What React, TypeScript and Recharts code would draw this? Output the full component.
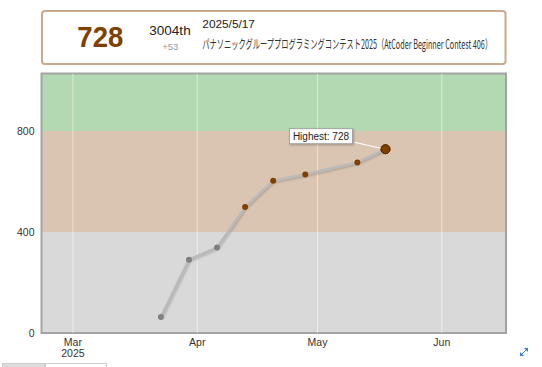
import {
  ComposedChart,
  Line,
  XAxis,
  YAxis,
  ReferenceArea,
  ReferenceLine,
  ReferenceDot,
} from "recharts";

// contest end times (JST) and rating after each contest
const contestEnds = [
  "2025-03-22T22:40:00+09:00",
  "2025-03-29T22:40:00+09:00",
  "2025-04-05T22:40:00+09:00",
  "2025-04-12T22:40:00+09:00",
  "2025-04-19T22:40:00+09:00",
  "2025-04-27T22:40:00+09:00",
  "2025-05-10T22:40:00+09:00",
  "2025-05-17T22:40:00+09:00",
];
const ratings = [63, 290, 339, 499, 603, 628, 675, 728];

const monthTicks = [
  "2025-03-01T00:00:00+09:00",
  "2025-04-01T00:00:00+09:00",
  "2025-05-01T00:00:00+09:00",
  "2025-06-01T00:00:00+09:00",
];
const monthLabels = ["Mar", "Apr", "May", "Jun"];
const yearLabels = ["2025", "", "", ""];
const yTicks = [0, 400, 800];

const bandFrom = [0, 400, 800];
const bandTo = [400, 800, 1200];
const bandColors = ["#d9d9d9", "#d9c5b2", "#b2d9b2"];
const dotColors = ["#808080", "#804000", "#008000"];

const xStart = "2025-02-21T04:00:00+09:00";
const xEnd = "2025-06-17T00:00:00+09:00";
const yMax = 1028;

// header info
const latestRating = "728";
const latestRank = "3004th";
const latestDiff = "+53";
const latestDate = "2025/5/17";
const latestContest =
  "パナソニックグループプログラミングコンテスト2025（AtCoder Beginner Contest 406）";

const t = (s: string) => new Date(s).getTime();

const data = contestEnds.map((d, i) => ({ time: t(d), rating: ratings[i] }));
const ticks = monthTicks.map(t);
const highest = Math.max(...ratings);
const highestIdx = ratings.indexOf(highest);

function colorFor(r: number) {
  return dotColors[Math.min(Math.floor(r / 400), dotColors.length - 1)];
}

// measure text so it can be squeezed to the reference width
function measure(text: string, font: string) {
  const c = document.createElement("canvas").getContext("2d");
  if (!c) return 1;
  c.font = font;
  return c.measureText(text).width || 1;
}

function FitText({
  x,
  y,
  width,
  size,
  family,
  weight = 400,
  fill,
  children,
}: {
  x: number;
  y: number;
  width: number;
  size: number;
  family: string;
  weight?: number;
  fill: string;
  children: string;
}) {
  const w = measure(children, `${weight} ${size}px "${family}", sans-serif`);
  const sx = width / w;
  return (
    <text
      transform={`translate(${x},${y}) scale(${sx},1)`}
      fontFamily={`"${family}", sans-serif`}
      fontWeight={weight}
      fontSize={size}
      fill={fill}
    >
      {children}
    </text>
  );
}

function RatingDot(props: any) {
  const { cx, cy, index, payload } = props;
  if (cx == null || cy == null) return null;
  const last = index === data.length - 1;
  return (
    <circle
      key={"d" + index}
      cx={cx}
      cy={cy}
      r={last ? 4.5 : 3}
      fill={colorFor(payload.rating)}
      stroke={last ? "#5a2d00" : "none"}
      strokeWidth={1}
    />
  );
}

function HighestLabel(props: any) {
  const { cx, cy } = props;
  if (cx == null || cy == null) return null;
  return (
    <g>
      <line x1={cx - 31} y1={cy - 7} x2={cx} y2={cy} stroke="#fff" strokeWidth={1.2} />
      <rect
        x={cx - 96}
        y={cy - 20.5}
        width={63}
        height={15}
        fill="#fff"
        stroke="#999"
        strokeWidth={0.8}
        style={{ filter: "drop-shadow(1px 1px 1px rgba(0,0,0,0.25))" }}
      />
      <text x={cx - 64.5} y={cy - 9.5} textAnchor="middle" fontSize={10} fill="#222">
        Highest: {highest}
      </text>
      <circle cx={cx} cy={cy} r={4.5} fill={colorFor(highest)} stroke="#5a2d00" strokeWidth={1} />
    </g>
  );
}

function MonthTick(props: any) {
  const { x, y, index } = props;
  return (
    <g>
      <text x={x} y={y + 13} textAnchor="middle" fontSize={10.5} fill="#333">
        {monthLabels[index]}
      </text>
      {yearLabels[index] && (
        <text x={x} y={y + 24} textAnchor="middle" fontSize={10.5} fill="#333">
          {yearLabels[index]}
        </text>
      )}
    </g>
  );
}

function Header() {
  return (
    <svg
      width={542}
      height={70}
      style={{ position: "absolute", left: 0, top: 0, pointerEvents: "none" }}
    >
      <rect x={42} y={11} width={463.5} height={53} rx={3} fill="#fff" stroke="#c8aa8c" strokeWidth={2} />
      <FitText x={77.3} y={47.3} width={46} size={29} weight={700} family="Liberation Sans" fill="#804000">
        {latestRating}
      </FitText>
      <FitText x={149.3} y={35} width={41.4} size={13.5} family="Liberation Sans" fill="#222">
        {latestRank}
      </FitText>
      <text x={170.2} y={50} fontSize={9.5} fill="#999" textAnchor="middle">
        {latestDiff}
      </text>
      <FitText x={202.3} y={27.5} width={52.7} size={11.5} family="Liberation Sans" fill="#222">
        {latestDate}
      </FitText>
      <FitText x={202.3} y={48.5} width={291} size={12.5} family="Noto Sans CJK JP" fill="#333">
        {latestContest}
      </FitText>
    </svg>
  );
}

export default function App() {
  return (
    <div
      style={{
        position: "absolute",
        left: 0,
        top: 0,
        width: 542,
        height: 367,
        background: "#fff",
        fontFamily: "Liberation Sans, Arial, sans-serif",
        overflow: "hidden",
      }}
    >
      <style>{`.rating-line .recharts-line-curve{filter:drop-shadow(1px 1.5px 1px rgba(0,0,0,0.2));}`}</style>
      <ComposedChart
        width={542}
        height={367}
        data={data}
        margin={{ top: 73.5, right: 36, left: 0, bottom: 0 }}
      >
        <XAxis
          dataKey="time"
          type="number"
          domain={[t(xStart), t(xEnd)]}
          ticks={ticks}
          tick={<MonthTick />}
          tickLine={false}
          axisLine={false}
          tickSize={0}
          tickMargin={0}
          height={34}
          interval={0}
          allowDataOverflow
        />
        <YAxis
          type="number"
          domain={[0, yMax]}
          ticks={yTicks}
          tickLine={false}
          axisLine={false}
          tickSize={0}
          tickMargin={7}
          width={41.5}
          tick={{ fontSize: 10.5, fill: "#333" }}
          allowDataOverflow
        />
        {bandFrom.map((f, i) => (
          <ReferenceArea
            key={"b" + i}
            y1={f}
            y2={Math.min(bandTo[i], yMax)}
            fill={bandColors[i]}
            fillOpacity={1}
            stroke="none"
            ifOverflow="hidden"
          />
        ))}
        {ticks.map((x) => (
          <ReferenceLine key={"g" + x} x={x} stroke="#ffffff" strokeWidth={1} strokeOpacity={0.5} />
        ))}
        <ReferenceArea
          x1={t(xStart)}
          x2={t(xEnd)}
          y1={0}
          y2={yMax}
          fill="none"
          stroke="#a3a3a3"
          strokeWidth={2}
          ifOverflow="visible"
        />
        <Line
          className="rating-line"
          dataKey="rating"
          stroke="#bababa"
          strokeWidth={2.5}
          dot={<RatingDot />}
          activeDot={false}
          isAnimationActive={false}
        />
        <ReferenceDot
          x={data[highestIdx].time}
          y={highest}
          shape={<HighestLabel />}
          ifOverflow="visible"
        />
      </ComposedChart>
      <Header />
      <svg width={12} height={12} style={{ position: "absolute", left: 518, top: 346 }}>
        <line x1={3} y1={9} x2={9} y2={3} stroke="#3a7bd5" strokeWidth={1} />
        <polygon points="10,2 10,6 6,2" fill="#3a7bd5" />
        <polygon points="2,10 2,6 6,10" fill="#3a7bd5" />
      </svg>
      <div
        style={{
          position: "absolute",
          left: 2,
          top: 363,
          width: 43,
          height: 8,
          background: "#ddd",
          border: "1px solid #ccc",
          boxSizing: "border-box",
        }}
      />
      <div
        style={{
          position: "absolute",
          left: 45,
          top: 363,
          width: 62,
          height: 8,
          background: "#fff",
          border: "1px solid #ccc",
          boxSizing: "border-box",
        }}
      />
    </div>
  );
}
